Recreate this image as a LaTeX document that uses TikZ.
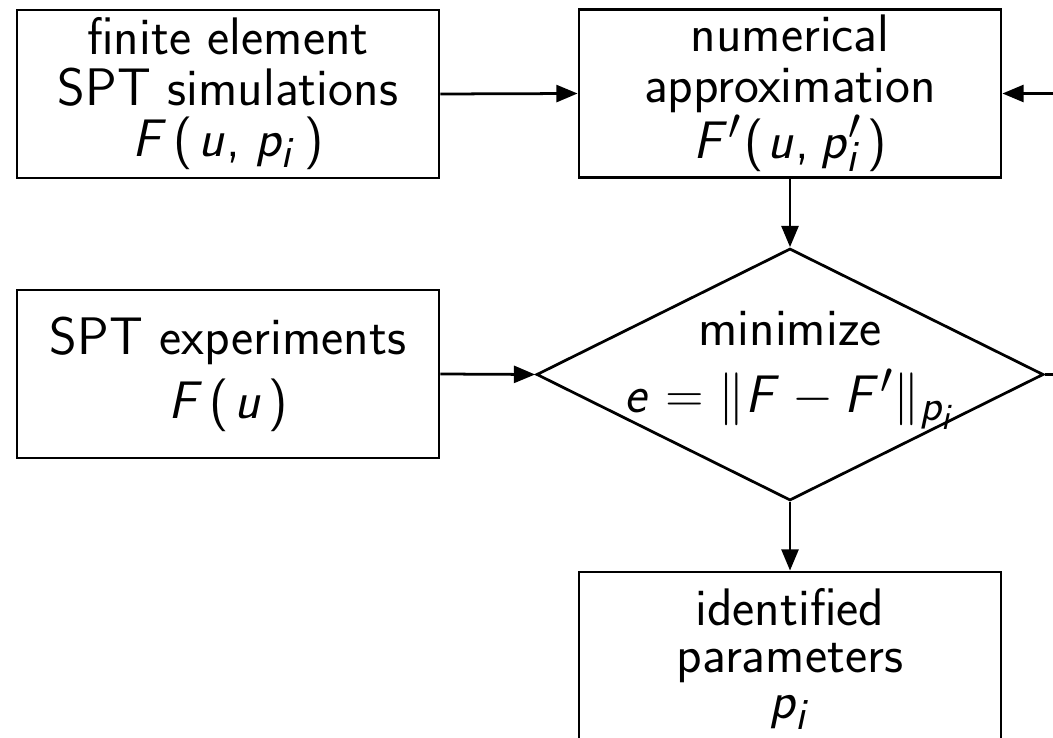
\documentclass[tikz,border=0pt]{standalone}
\usetikzlibrary{arrows.meta,shapes.geometric}
\DeclareSymbolFont{sfit}{OT1}{cmss}{m}{sl}
\DeclareSymbolFont{sfup}{OT1}{cmss}{m}{n}
\DeclareMathSymbol{F}{\mathalpha}{sfit}{`F}
\DeclareMathSymbol{u}{\mathalpha}{sfit}{`u}
\DeclareMathSymbol{p}{\mathalpha}{sfit}{`p}
\DeclareMathSymbol{i}{\mathalpha}{sfit}{`i}
\DeclareMathSymbol{e}{\mathalpha}{sfit}{`e}
\DeclareMathSymbol{=}{\mathrel}{sfup}{`=}
\DeclareMathSymbol{,}{\mathpunct}{sfup}{`,}
\DeclareMathDelimiter{(}{\mathopen}{sfup}{`(}{largesymbols}{"00}
\DeclareMathDelimiter{)}{\mathclose}{sfup}{`)}{largesymbols}{"01}
\tikzset{
  x=0.471pt, y=-0.471pt,
  every node/.style={font=\sffamily\fontsize{24.88}{24}\selectfont},
  box/.style={draw, line width=1.3pt, minimum width=198.8pt, minimum height=79.1pt, inner sep=0pt, align=center},
  dia/.style={draw, line width=1.3pt, diamond, minimum width=238.8pt, minimum height=118.7pt, inner sep=0pt},
  arr/.style={line width=1.3pt, -{Triangle[length=10pt,width=8pt]}}
}
\begin{document}
\begin{tikzpicture}
\useasboundingbox (0,0) rectangle (1053,738);
\clip (0,0) rectangle (1053,738);
\node[box] (b1) at (228,94) {finite element\\SPT simulations\\$F\mkern2mu(\mkern2mu u,\mkern2mu p_i\mkern3mu)$};
\node[box] (b2) at (790,93.5) {numerical\\approximation\\$F'\mkern1mu(\mkern1mu u,\mkern1mu p_i'\mkern2mu)$};
\node[box] (b3) at (228,374) {SPT experiments\\[6pt]$F\mkern2mu(\mkern2mu u\mkern2mu)$};
\node[dia] (dia) at (790,374.5) {\makebox[0pt]{\raisebox{-4pt}[0pt][0pt]{\begin{tabular}[c]{@{}c@{}}minimize\\[4pt]$e=\|F-F'\|_{p_i}$\end{tabular}}}};
\node[box, minimum height=82pt] (b4) at (790,659) {identified\\[-2pt]parameters\\[-2pt]$p_i$};
\draw[arr] (b1.east) -- (b2.west);
\draw[arr] (b2.south) -- (dia.north);
\draw[arr] (b3.east) -- (dia.west);
\draw[arr] (dia.south) -- (b4.north);
\draw[arr] (dia.east) -- ++(40,0) |- (b2.east);
\end{tikzpicture}
\end{document}
